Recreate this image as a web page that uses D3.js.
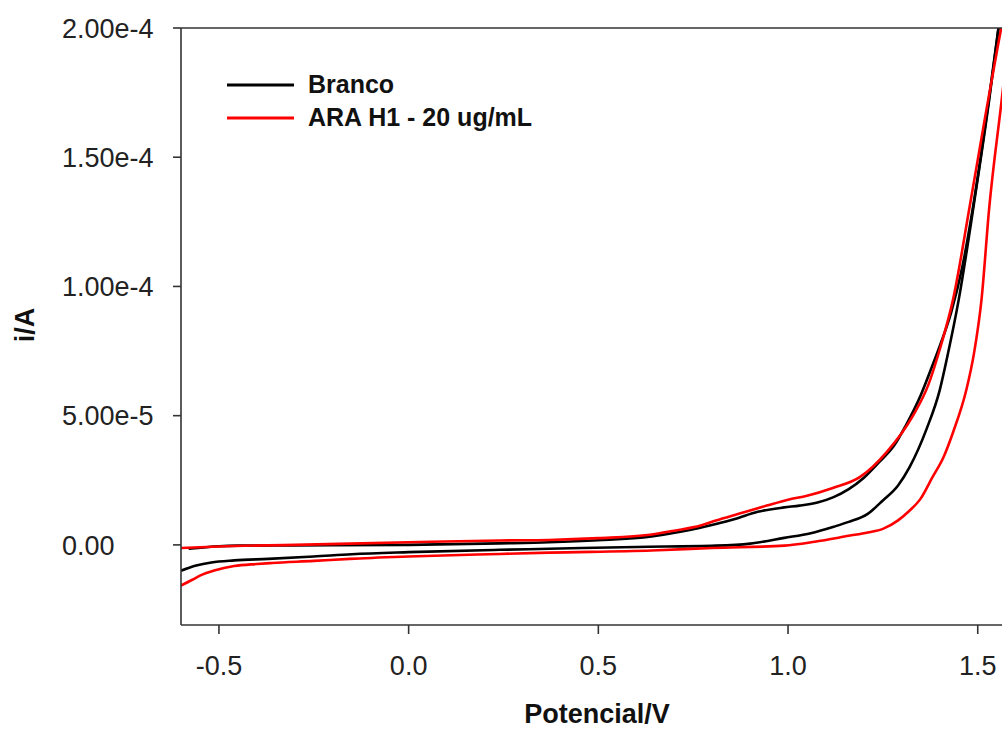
<!DOCTYPE html>
<html>
<head>
<meta charset="utf-8">
<script src="https://cdn.jsdelivr.net/npm/d3@7"></script>
<style>
    html, body { margin: 0; padding: 0; background: #fff; }
    svg { display: block; font-family: "Liberation Sans", Arial, sans-serif; }
</style>
</head>
<body>
<svg id="chart" width="1002" height="729"></svg>
<script>
// Cyclic voltammograms, [potential V, current A]
// forward = lower branch, reverse = upper branch (both listed by rising V)
const brancoForward = [
    [-0.60, -1.00e-5], [-0.56, -0.80e-5], [-0.52, -0.68e-5], [-0.46, -0.60e-5],
    [-0.37, -0.54e-5], [-0.25, -0.45e-5], [-0.15, -0.36e-5], [0.00, -0.28e-5],
    [0.24, -0.19e-5], [0.37, -0.15e-5], [0.60, -0.08e-5], [0.81, -0.03e-5],
    [0.90, 0.05e-5], [0.99, 0.27e-5], [1.06, 0.45e-5], [1.12, 0.70e-5],
    [1.16, 0.89e-5], [1.21, 1.20e-5], [1.25, 1.72e-5], [1.29, 2.30e-5],
    [1.32, 3.00e-5], [1.365, 4.48e-5], [1.40, 6.00e-5], [1.42, 7.30e-5],
    [1.45, 9.50e-5], [1.49, 13.2e-5], [1.53, 17.2e-5], [1.56, 20.6e-5],
    [1.59, 24.0e-5]
];
const brancoReverse = [
    [-0.58, -0.15e-5], [-0.50, -0.05e-5], [-0.45, -0.03e-5], [-0.30, -0.02e-5],
    [0.00, 0.00e-5], [0.24, 0.06e-5], [0.37, 0.10e-5], [0.50, 0.18e-5],
    [0.64, 0.33e-5], [0.72, 0.52e-5], [0.81, 0.81e-5], [0.86, 1.00e-5],
    [0.92, 1.28e-5], [0.99, 1.45e-5], [1.03, 1.52e-5], [1.08, 1.65e-5],
    [1.12, 1.85e-5], [1.16, 2.16e-5], [1.20, 2.60e-5], [1.24, 3.20e-5],
    [1.28, 3.85e-5], [1.31, 4.61e-5], [1.35, 5.80e-5], [1.38, 6.92e-5],
    [1.40, 7.70e-5], [1.43, 9.00e-5], [1.46, 10.8e-5], [1.49, 13.3e-5],
    [1.53, 17.3e-5], [1.56, 20.6e-5], [1.59, 24.0e-5]
];
const araForward = [
    [-0.60, -1.57e-5], [-0.57, -1.35e-5], [-0.55, -1.19e-5], [-0.51, -0.98e-5],
    [-0.46, -0.82e-5], [-0.40, -0.74e-5], [-0.36, -0.70e-5], [-0.25, -0.62e-5],
    [-0.155, -0.54e-5], [0.00, -0.45e-5], [0.24, -0.35e-5], [0.37, -0.30e-5],
    [0.64, -0.22e-5], [0.80, -0.12e-5], [0.99, -0.03e-5], [1.07, 0.12e-5],
    [1.16, 0.35e-5], [1.21, 0.48e-5], [1.25, 0.62e-5], [1.29, 0.95e-5],
    [1.32, 1.32e-5], [1.35, 1.80e-5], [1.38, 2.60e-5], [1.41, 3.40e-5],
    [1.435, 4.36e-5], [1.47, 6.00e-5], [1.49, 7.40e-5], [1.51, 9.50e-5],
    [1.53, 13.0e-5], [1.563, 17.2e-5], [1.60, 22.0e-5]
];
const araReverse = [
    [-0.60, -0.12e-5], [-0.50, -0.06e-5], [-0.30, 0.00e-5], [0.00, 0.10e-5],
    [0.24, 0.17e-5], [0.37, 0.19e-5], [0.50, 0.26e-5], [0.636, 0.39e-5],
    [0.70, 0.55e-5], [0.77, 0.75e-5], [0.81, 0.94e-5], [0.87, 1.20e-5],
    [0.944, 1.52e-5], [1.00, 1.75e-5], [1.05, 1.90e-5], [1.118, 2.20e-5],
    [1.19, 2.63e-5], [1.26, 3.59e-5], [1.329, 4.99e-5], [1.37, 6.20e-5],
    [1.40, 7.57e-5], [1.435, 9.50e-5], [1.48, 13.2e-5], [1.52, 16.6e-5],
    [1.553, 19.3e-5], [1.60, 23.0e-5]
];

const xTicks = [-0.5, 0.0, 0.5, 1.0, 1.5];
const yTicks = [0, 5e-5, 1e-4, 1.5e-4, 2e-4];
const yTickLabels = ['0.00', '5.00e-5', '1.00e-4', '1.50e-4', '2.00e-4'];
const legendLabels = ['Branco', 'ARA H1 - 20 ug/mL'];
const seriesColors = ['#000000', '#ff0000'];

const svg = d3.select('#chart');
const plotLeft = 181, plotTop = 28, plotBottom = 625, plotRight = 1002;

// x range runs past the right edge, the reference is cropped there
const x = d3.scaleLinear().domain([-0.6, 1.6]).range([plotLeft, plotLeft + 2.2 * 379.4]);
const y = d3.scaleLinear().domain([-3.1e-5, 2.0e-4]).range([plotBottom, plotTop]);

svg.append('defs').append('clipPath').attr('id', 'plotClip')
    .append('rect')
    .attr('x', plotLeft).attr('y', plotTop)
    .attr('width', plotRight - plotLeft).attr('height', plotBottom - plotTop);

// Curves
const line = d3.line()
    .x(d => x(d[0]))
    .y(d => y(d[1]))
    .curve(d3.curveMonotoneX);

const curves = svg.append('g').attr('clip-path', 'url(#plotClip)');
const series = [
    { branches: [brancoForward, brancoReverse], color: seriesColors[0] },
    { branches: [araForward, araReverse], color: seriesColors[1] }
];
series.forEach(s => {
    s.branches.forEach(b => {
        curves.append('path')
            .attr('d', line(b))
            .attr('fill', 'none')
            .attr('stroke', s.color)
            .attr('stroke-width', 2.6)
            .attr('stroke-linejoin', 'round');
    });
});

// Frame lines (left, bottom, top)
const axisColor = '#333';
svg.append('line')
    .attr('x1', plotLeft).attr('x2', plotLeft).attr('y1', plotTop).attr('y2', plotBottom)
    .attr('stroke', axisColor).attr('stroke-width', 1.6);
svg.append('line')
    .attr('x1', plotLeft).attr('x2', plotRight).attr('y1', plotBottom).attr('y2', plotBottom)
    .attr('stroke', axisColor).attr('stroke-width', 1.6);
svg.append('line')
    .attr('x1', plotLeft).attr('x2', plotRight).attr('y1', plotTop).attr('y2', plotTop)
    .attr('stroke', axisColor).attr('stroke-width', 1.6);

// Y axis ticks, labels left aligned
const yAxis = svg.append('g');
yAxis.selectAll('line')
    .data(yTicks)
    .enter().append('line')
    .attr('x1', plotLeft - 8).attr('x2', plotLeft)
    .attr('y1', d => y(d)).attr('y2', d => y(d))
    .attr('stroke', axisColor).attr('stroke-width', 1.6);
yAxis.selectAll('text')
    .data(yTicks)
    .enter().append('text')
    .attr('x', 62)
    .attr('y', d => y(d))
    .attr('dy', '0.36em')
    .attr('text-anchor', 'start')
    .style('font-size', '27px')
    .style('fill', '#222')
    .text((d, i) => yTickLabels[i]);

// X axis ticks
const xAxis = svg.append('g');
xAxis.selectAll('line')
    .data(xTicks)
    .enter().append('line')
    .attr('x1', d => x(d)).attr('x2', d => x(d))
    .attr('y1', plotBottom).attr('y2', plotBottom + 9)
    .attr('stroke', axisColor).attr('stroke-width', 1.6);
xAxis.selectAll('text')
    .data(xTicks)
    .enter().append('text')
    .attr('x', d => x(d))
    .attr('y', 675)
    .attr('text-anchor', 'middle')
    .style('font-size', '27px')
    .style('fill', '#222')
    .text(d => d3.format('.1f')(d).replace('−', '-'));

// Axis titles
svg.append('text')
    .attr('x', 597)
    .attr('y', 723)
    .attr('text-anchor', 'middle')
    .style('font-size', '27px')
    .style('font-weight', 'bold')
    .style('fill', '#111')
    .text('Potencial/V');

svg.append('text')
    .attr('transform', 'translate(34,325) rotate(-90)')
    .attr('text-anchor', 'middle')
    .style('font-size', '27px')
    .style('font-weight', 'bold')
    .style('fill', '#111')
    .text('i/A');

// Legend
const legend = svg.append('g');
legendLabels.forEach((label, i) => {
    const ly = 85 + i * 33;
    legend.append('line')
        .attr('x1', 227).attr('x2', 294)
        .attr('y1', ly).attr('y2', ly)
        .attr('stroke', seriesColors[i])
        .attr('stroke-width', 3);
    legend.append('text')
        .attr('x', 308)
        .attr('y', ly + 8)
        .style('font-size', '25px')
        .style('font-weight', 'bold')
        .style('fill', '#111')
        .text(label);
});
</script>
</body>
</html>
